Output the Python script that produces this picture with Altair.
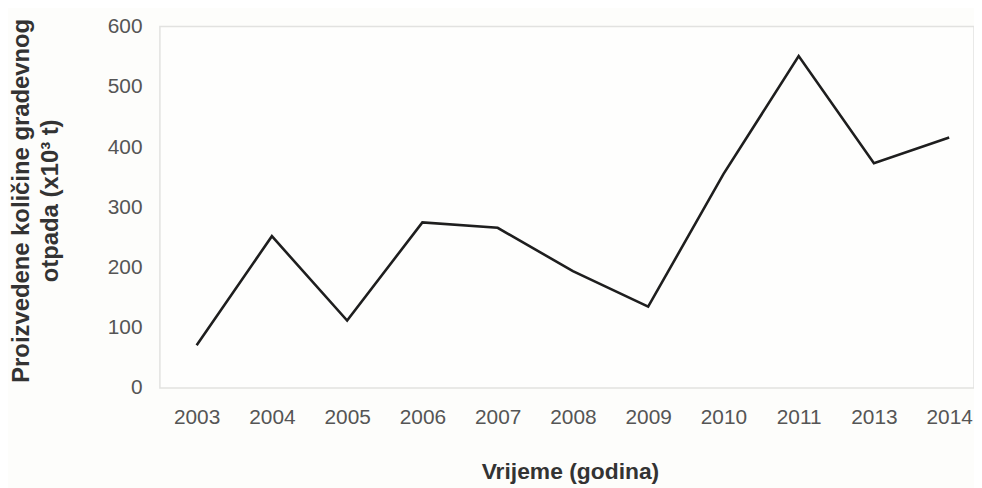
import altair as alt
import pandas as pd

years = ["2003", "2004", "2005", "2006", "2007", "2008", "2009", "2010", "2011", "2013", "2014"]
values = [71, 252, 112, 275, 266, 194, 135, 355, 551, 373, 416]
y_ticks = [0, 100, 200, 300, 400, 500, 600]

df = pd.DataFrame({"year": years, "value": values})

label_color = "#555555"
title_color = "#333333"

chart = alt.Chart(df).mark_line(color="#1e1e1e", strokeWidth=2.6).encode(
    x=alt.X(
        "year:N",
        sort=years,
        scale=alt.Scale(type="point", range=[37, 795], padding=0),
        axis=alt.Axis(
            title="Vrijeme (godina)",
            labelAngle=0,
            labelFont="Liberation Sans",
            labelFontSize=21,
            labelColor=label_color,
            labelPadding=19,
            ticks=False,
            tickSize=0,
            domain=False,
            grid=False,
            titleFont="Liberation Sans",
            titleFontSize=23,
            titleFontWeight="bold",
            titleColor=title_color,
            titleX=413,
            titleY=91,
            titleBaseline="alphabetic",
            titleAlign="center",
        ),
    ),
    y=alt.Y(
        "value:Q",
        scale=alt.Scale(domain=[0, 600], nice=False),
        axis=alt.Axis(
            title=["Proizvedene količine gradevnog", "otpada  (x10³ t)"],
            values=y_ticks,
            labelFont="Liberation Sans",
            labelFontSize=21,
            labelColor=label_color,
            labelPadding=18,
            ticks=False,
            tickSize=0,
            domain=False,
            grid=False,
            titleFont="Liberation Sans",
            titleFontSize=24,
            titleFontWeight="bold",
            titleColor=title_color,
            titleAngle=270,
            titleX=-132,
            titleY=175,
            titleBaseline="alphabetic",
            titleAlign="center",
            titleLineHeight=29,
        ),
    ),
).properties(
    width=820,
    height=364,
    autosize=alt.AutoSizeParams(type="none"),
    padding={"left": 153, "top": 17, "right": 0, "bottom": 99},
    background="#fdfdfb",
).configure_view(
    stroke="#e2e2e0",
    strokeWidth=1.5,
    fill="#fefefd",
)

chart.save("out.html", embed_options={"renderer": "svg", "actions": False})
